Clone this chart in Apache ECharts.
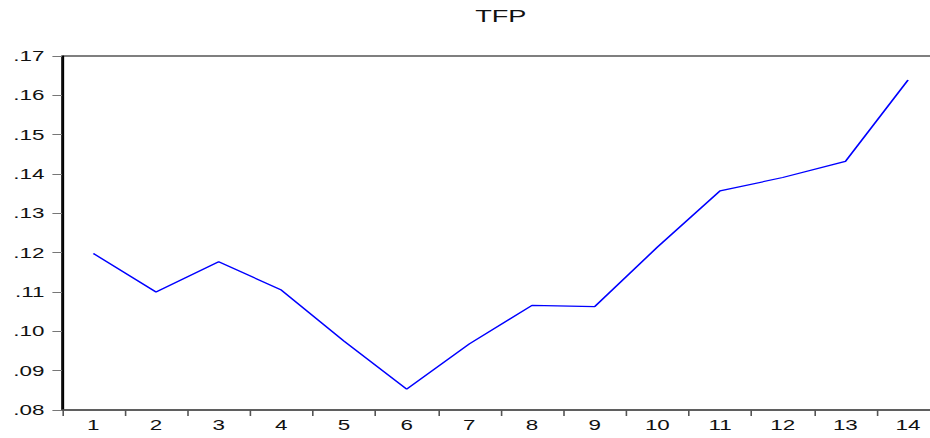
<!DOCTYPE html>
<html>
<head>
<meta charset="utf-8">
<script src="https://cdn.jsdelivr.net/npm/echarts@6/dist/echarts.min.js"></script>
<style>
html, body { margin: 0; padding: 0; background: #fff; overflow: hidden; width: 930px; height: 438px; }
#chart { width: 600px; height: 438px; transform: scaleX(1.6); transform-origin: 0 0; }
</style>
</head>
<body>
<div id="chart"></div>
<script>
const categories = ['1','2','3','4','5','6','7','8','9','10','11','12','13','14'];
const tfpValues = [0.1198, 0.1100, 0.1177, 0.1105, 0.0975, 0.0853, 0.0968, 0.1066, 0.1063, 0.1214, 0.1357, 0.1391, 0.1432, 0.1639];
const yMin = 0.08, yMax = 0.17, yStep = 0.01;
const titleText = 'TFP';

const chart = echarts.init(document.getElementById('chart'), null, { renderer: 'svg' });
chart.setOption({
  animation: false,
  backgroundColor: '#fff',
  title: {
    text: titleText,
    left: 313,
    textAlign: 'center',
    top: 8,
    padding: 0,
    textStyle: { fontFamily: 'Liberation Sans, Arial, sans-serif', fontSize: 17, fontWeight: 'normal', color: '#111' }
  },
  grid: {
    left: 38.75, right: 12.9, top: 56, bottom: 28,
    show: true, borderColor: '#000', borderWidth: 1, backgroundColor: 'transparent'
  },
  xAxis: {
    type: 'category',
    data: categories,
    boundaryGap: true,
    axisLine: { lineStyle: { color: '#555', width: 1.5 } },
    axisTick: { show: true, length: 6, lineStyle: { color: '#555', width: 1 } },
    axisLabel: { margin: 8, fontFamily: 'Liberation Sans, Arial, sans-serif', fontSize: 14, color: '#111', interval: 0 },
    splitLine: { show: false }
  },
  yAxis: {
    type: 'value',
    min: yMin, max: yMax, interval: yStep,
    axisLine: { show: true, lineStyle: { color: '#000', width: 1.2 } },
    axisTick: { show: true, length: 6, lineStyle: { color: '#777', width: 1 } },
    axisLabel: {
      margin: 11,
      fontFamily: 'Liberation Sans, Arial, sans-serif', fontSize: 14, color: '#111',
      formatter: v => v.toFixed(2).replace(/^0/, '')
    },
    splitLine: { show: false }
  },
  series: [{
    type: 'line',
    data: tfpValues,
    symbol: 'none',
    lineStyle: { color: '#0000ff', width: 1.2 },
    itemStyle: { color: '#0000ff' }
  }]
});
</script>
</body>
</html>
